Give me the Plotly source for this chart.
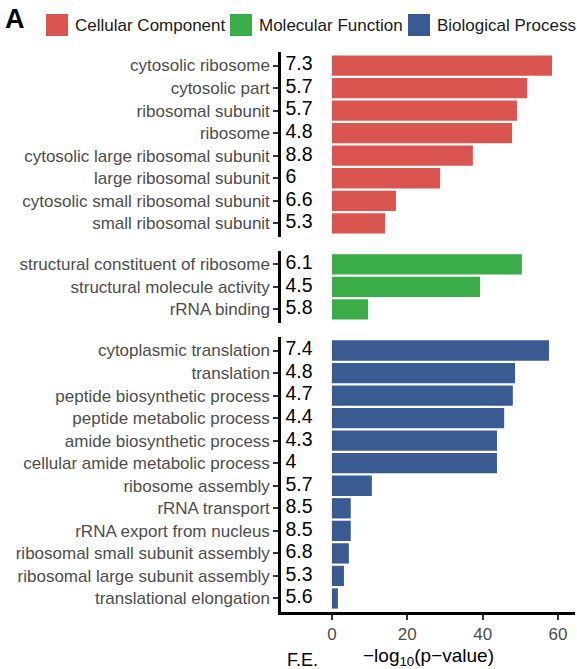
import plotly.graph_objects as go
from plotly.subplots import make_subplots

# ---- data ----
cc_terms = ["cytosolic ribosome", "cytosolic part", "ribosomal subunit", "ribosome",
            "cytosolic large ribosomal subunit", "large ribosomal subunit",
            "cytosolic small ribosomal subunit", "small ribosomal subunit"]
cc_logp = [58.4, 51.8, 49.1, 47.8, 37.4, 28.7, 17.0, 14.1]
cc_fe = ["7.3", "5.7", "5.7", "4.8", "8.8", "6", "6.6", "5.3"]

mf_terms = ["structural constituent of ribosome", "structural molecule activity", "rRNA binding"]
mf_logp = [50.4, 39.3, 9.6]
mf_fe = ["6.1", "4.5", "5.8"]

bp_terms = ["cytoplasmic translation", "translation", "peptide biosynthetic process",
            "peptide metabolic process", "amide biosynthetic process",
            "cellular amide metabolic process", "ribosome assembly", "rRNA transport",
            "rRNA export from nucleus", "ribosomal small subunit assembly",
            "ribosomal large subunit assembly", "translational elongation"]
bp_logp = [57.6, 48.6, 48.0, 45.7, 43.8, 43.8, 10.6, 5.0, 5.0, 4.5, 3.2, 1.6]
bp_fe = ["7.4", "4.8", "4.7", "4.4", "4.3", "4", "5.7", "8.5", "8.5", "6.8", "5.3", "5.6"]

group_names = ["Cellular Component", "Molecular Function", "Biological Process"]
group_colors = ["#DA5450", "#3AAD48", "#3A5A92"]
x_ticks = [0, 20, 40, 60]

groups = [(cc_terms, cc_logp, cc_fe), (mf_terms, mf_logp, mf_fe), (bp_terms, bp_logp, bp_fe)]

# ---- layout geometry ----
W, H = 577, 669
ml, mr, mt, mb = 281, 2, 52, 57
plot_w = W - ml - mr
plot_h = H - mt - mb
gap_px = 14
x_range = [-13.5, 64.5]

heights = [len(g[0]) + 0.2 for g in groups]
fig = make_subplots(rows=3, cols=1, shared_xaxes=False,
                    row_heights=heights, vertical_spacing=gap_px / plot_h)

label_color = "#4D4D4D"
font_family = "Liberation Sans, Arial, sans-serif"

for i, ((terms, vals, fes), name, col) in enumerate(zip(groups, group_names, group_colors)):
    r = i + 1
    fig.add_trace(go.Bar(y=terms, x=vals, orientation="h", marker_color=col,
                         marker_line_width=0, width=0.9, name=name, showlegend=False),
                  row=r, col=1)
    fig.add_trace(go.Scatter(y=terms, x=[x_range[0] + 1.2] * len(terms), text=fes,
                             mode="text", textposition="middle right",
                             textfont=dict(size=19.5, color="black", family=font_family),
                             showlegend=False, hoverinfo="skip"),
                  row=r, col=1)
    n = len(terms)
    fig.update_yaxes(row=r, col=1, type="category", categoryorder="array",
                     categoryarray=terms, range=[n - 0.4, -0.6],
                     showline=True, linecolor="black", linewidth=2.5,
                     ticks="outside", ticklen=5, tickwidth=2, tickcolor="#333333",
                     tickfont=dict(size=17, color=label_color, family=font_family),
                     showgrid=False, zeroline=False, automargin=False)
    last = (r == 3)
    fig.update_xaxes(row=r, col=1, range=x_range, showgrid=False, zeroline=False,
                     showline=last, linecolor="black", linewidth=2.5,
                     ticks="outside" if last else "", ticklen=5, tickwidth=2,
                     tickcolor="#333333", tickvals=x_ticks,
                     showticklabels=last,
                     tickfont=dict(size=17, color=label_color, family=font_family),
                     automargin=False)

fig.update_layout(width=W, height=H, margin=dict(l=ml, r=mr, t=mt, b=mb),
                  plot_bgcolor="white", paper_bgcolor="white", bargap=0.1,
                  font=dict(family=font_family))

def px_x(p):
    return (p - ml) / plot_w

def px_y(p):
    return (H - mb - p) / plot_h

shapes = []
annotations = []
# panel label
annotations.append(dict(text="<b>A</b>", x=px_x(3), y=px_y(19), xref="paper", yref="paper",
                        xanchor="left", yanchor="middle", showarrow=False,
                        font=dict(size=27, color="black", family=font_family)))
# custom legend
legend_x = [46, 230, 408]
for lx, name, col in zip(legend_x, group_names, group_colors):
    shapes.append(dict(type="rect", xref="paper", yref="paper",
                       x0=px_x(lx), x1=px_x(lx + 22), y0=px_y(36), y1=px_y(14),
                       fillcolor=col, line_width=0))
    annotations.append(dict(text=name, x=px_x(lx + 27), y=px_y(25.5), xref="paper", yref="paper",
                            xanchor="left", yanchor="middle", showarrow=False,
                            font=dict(size=17, color="#1A1A1A", family=font_family)))
# axis titles
annotations.append(dict(text="\u2212log<sub>10</sub>(p\u2212value)", x=px_x(428), y=px_y(657),
                        xref="paper", yref="paper", xanchor="center", yanchor="middle",
                        showarrow=False, font=dict(size=19, color="black", family=font_family)))
annotations.append(dict(text="F.E.", x=px_x(285), y=px_y(660), xref="paper", yref="paper",
                        xanchor="left", yanchor="middle", showarrow=False,
                        font=dict(size=18, color="black", family=font_family)))
fig.update_layout(shapes=shapes, annotations=annotations)

fig.write_html("out.html")
